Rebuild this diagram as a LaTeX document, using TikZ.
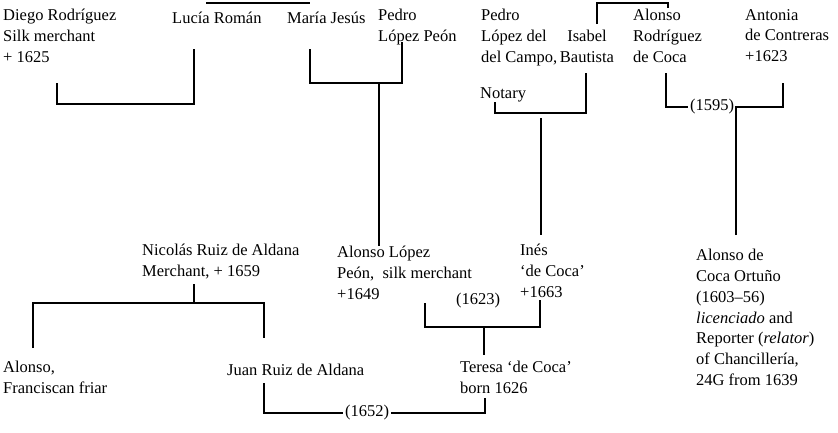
\documentclass[tikz,border=0pt]{standalone}
\usepackage{fontspec}
\setmainfont{Liberation Serif}
\newcommand\pfont{\fontsize{16.5}{20.8}\selectfont}
\begin{document}
\begin{tikzpicture}[x=1pt,y=-1pt,
  person/.style={anchor=north west, inner sep=0pt, align=left, font=\pfont, execute at begin node=\strut},
  yearlbl/.style={anchor=center, inner xsep=2pt, inner ysep=0pt, font=\pfont},
  link/.style={line width=2pt, line join=miter}]
\useasboundingbox (0,0) rectangle (838,432);
% people
\node[person] (diego) at (3,9) {Diego Rodríguez\\Silk merchant\\+ 1625};
\node[person] (lucia) at (172,9) {Lucía Román};
\node[person] (maria) at (287,9) {María Jesús};
\node[person] (pedrolp) at (378,9) {Pedro\\López Peón};
\node[person] (pedrold) at (481,9) {Pedro\\López del\\del Campo,};
\node[person] (notary) at (480,84) {Notary};
\node[person, anchor=north, align=center] (isabel) at (587,30) {Isabel\\Bautista};
\node[person] (alonsorc) at (633,9) {Alonso\\Rodríguez\\de Coca};
\node[person] (antonia) at (745,9) {Antonia\\de Contreras\\+1623};
\node[person] (nicolas) at (142,244) {Nicolás Ruiz de Aldana\\Merchant, + 1659};
\node[person] (alonsolp) at (337,246) {Alonso López\\Peón,~ silk merchant\\+1649};
\node[person] (ines) at (520,244) {Inés\\`de Coca'\\+1663};
\node[person] (alonsoco) at (696,249) {Alonso de\\Coca Ortuño\\(1603--56)\\\textit{licenciado} and\\Reporter (\textit{relator})\\of Chancillería,\\24G from 1639};
\node[person] (alonsof) at (3,361) {Alonso,\\Franciscan friar};
\node[person] (juan) at (227,361) {Juan Ruiz de Aldana};
\node[person] (teresa) at (460,361) {Teresa `de Coca'\\born 1626};
% marriage years
\node[yearlbl] (m1623) at (478,301) {(1623)};
\node[yearlbl] (m1595) at (712,107) {(1595)};
\node[yearlbl] (m1652) at (367,413) {(1652)};
% connector ends
\coordinate (lucia-n) at (206,3);
\coordinate (maria-n) at (310,3);
\coordinate (diego-s) at (57,83);
\coordinate (lucia-s) at (194,49);
\coordinate (maria-s) at (310,49);
\coordinate (pedrolp-s) at (402,42);
\coordinate (mp-mid) at (379,83);
\coordinate (isabel-n) at (597,24);
\coordinate (alonsorc-n) at (668,8);
\coordinate (notary-s) at (495,102);
\coordinate (isabel-s) at (586,73);
\coordinate (ni-mid) at (541,118);
\coordinate (ines-n) at (541,235);
\coordinate (alonsorc-s) at (666,73);
\coordinate (antonia-s) at (783,83);
\coordinate (alonsoco-n) at (736,235);
\coordinate (nicolas-s) at (194,284);
\coordinate (alonsof-n) at (33,348);
\coordinate (juan-n) at (264,338);
\coordinate (alonsolp-s) at (425,303);
\coordinate (ines-s) at (540,300);
\coordinate (li-mid) at (484,327);
\coordinate (teresa-n) at (484,355);
\coordinate (juan-s) at (264,383);
\coordinate (teresa-s) at (485,398);
% connectors
\draw[link] (lucia-n) -- (maria-n);
\draw[link] (diego-s) -- ++(0,21) -| (lucia-s);
\draw[link] (maria-s) -- ++(0,34) -| (pedrolp-s);
\draw[link] (mp-mid) -- (mp-mid |- alonsolp.north);
\draw[link] (isabel-n) -- ++(0,-21) -| (alonsorc-n);
\draw[link] (notary-s) -- ++(0,11) -| (isabel-s);
\draw[link] (ni-mid) -- (ines-n);
\draw[link] (alonsorc-s) |- (m1595.west);
\draw[link] (alonsoco-n) -- ++(0,-128) -| (antonia-s);
\draw[link] (nicolas-s) -- ++(0,19);
\draw[link] (alonsof-n) -- ++(0,-45) -| (juan-n);
\draw[link] (alonsolp-s) -- ++(0,24) -| (ines-s);
\draw[link] (li-mid) -- (teresa-n);
\draw[link] (juan-s) |- (m1652.west);
\draw[link] (m1652.east) -| (teresa-s);
\end{tikzpicture}
\end{document}
